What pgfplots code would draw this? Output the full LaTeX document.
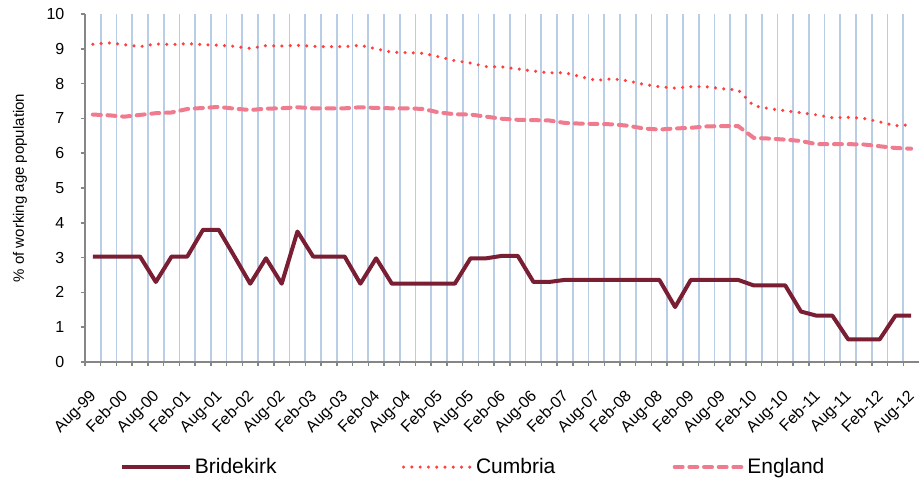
\documentclass[border=0pt]{standalone}
\usepackage{fontspec}
\setmainfont{Liberation Sans}
\usepackage{pgfplots}
\usepackage{pgfplotstable}
\pgfplotsset{compat=1.18}
\definecolor{brid}{RGB}{122,30,52}
\definecolor{cumb}{RGB}{255,64,64}
\definecolor{eng}{RGB}{240,122,142}
\definecolor{gridb}{RGB}{185,205,229}
\definecolor{axgray}{RGB}{134,134,134}
\pgfplotstableread{
i B C E
0 3.03 9.13 7.11
1 3.03 9.17 7.09
2 3.03 9.12 7.05
3 3.03 9.06 7.10
4 2.30 9.14 7.15
5 3.03 9.12 7.17
6 3.03 9.15 7.27
7 3.80 9.12 7.30
8 3.80 9.10 7.33
9 3.03 9.07 7.28
10 2.25 9.01 7.24
11 2.98 9.09 7.28
12 2.25 9.08 7.29
13 3.75 9.10 7.32
14 3.03 9.07 7.29
15 3.03 9.06 7.29
16 3.03 9.06 7.29
17 2.25 9.10 7.32
18 2.98 9.00 7.30
19 2.25 8.90 7.29
20 2.25 8.89 7.29
21 2.25 8.87 7.27
22 2.25 8.77 7.17
23 2.25 8.66 7.12
24 2.98 8.59 7.11
25 2.98 8.49 7.05
26 3.05 8.48 6.99
27 3.05 8.42 6.96
28 2.30 8.36 6.95
29 2.30 8.31 6.94
30 2.36 8.31 6.87
31 2.36 8.20 6.85
32 2.36 8.09 6.84
33 2.36 8.14 6.83
34 2.36 8.08 6.79
35 2.36 7.98 6.71
36 2.36 7.91 6.68
37 1.58 7.87 6.71
38 2.36 7.91 6.73
39 2.36 7.91 6.77
40 2.36 7.85 6.78
41 2.36 7.82 6.78
42 2.20 7.36 6.44
43 2.20 7.28 6.42
44 2.20 7.22 6.39
45 1.45 7.16 6.35
46 1.33 7.10 6.26
47 1.33 7.02 6.26
48 0.65 7.03 6.26
49 0.65 7.00 6.25
50 0.65 6.90 6.20
51 1.33 6.79 6.15
52 1.33 6.82 6.13
}\datatable
\begin{document}
\begin{tikzpicture}[font=\fontsize{12}{14}\selectfont]
\begin{axis}[
  at={(0,0)}, anchor=south west, scale only axis,
  width=625.5pt, height=261pt,
  xmin=-0.5, xmax=52.5, ymin=0, ymax=10,
  axis x line*=bottom, axis y line*=left,
  axis line style={draw=axgray, line width=1.1pt},
  tick align=outside,
  xtick={0,2,...,52},
  xticklabels={Aug-99,Feb-00,Aug-00,Feb-01,Aug-01,Feb-02,Aug-02,Feb-03,Aug-03,Feb-04,Aug-04,Feb-05,Aug-05,Feb-06,Aug-06,Feb-07,Aug-07,Feb-08,Aug-08,Feb-09,Aug-09,Feb-10,Aug-10,Feb-11,Aug-11,Feb-12,Aug-12},
  every major x tick/.style={draw=none},
  minor xtick={-0.5,0.5,...,51.5},
  xminorgrids,
  minor x grid style={draw=gridb, line width=1.3pt},
  every minor x tick/.style={draw=axgray, line width=1.1pt},
  minor tick length=3pt,
  ytick={0,1,...,10},
  every major y tick/.style={draw=axgray, line width=1.1pt},
  major tick length=3pt,
  /pgf/number format/assume math mode=true,
  tick label style={font=\fontsize{12}{14}\selectfont},
  x tick label style={inner sep=0pt, xshift=-3pt, yshift=-17pt, rotate=45, anchor=north east},
  y tick label style={inner sep=0pt, anchor=east, xshift=-12.25pt},
  ylabel={\% of working age population},
  every axis y label/.style={at={([xshift=-48.75pt]axis description cs:0,0.5)}, rotate=90, anchor=center, font=\fontsize{11.25}{12}\selectfont},
  legend columns=3,
  legend style={draw=none, fill=none, at={(0.466,-0.302)}, anchor=center,
    font=\fontsize{15.75}{16}\selectfont,
    /tikz/column 2/.style={column sep=92pt},
    /tikz/column 4/.style={column sep=86pt}},
  legend cell align=left,
  legend image code/.code={\draw[#1] (0pt,0pt) -- (51pt,0pt);},
]
\addplot[brid, line width=3pt, line join=round] table[x=i, y=B] {\datatable};
\addlegendentry{Bridekirk}
\addplot[cumb, line width=2.6pt, line cap=round, dash pattern=on 0pt off 6.2pt] table[x=i, y=C] {\datatable};
\addlegendentry{Cumbria}
\addplot[eng, line width=3pt, line cap=round, dash pattern=on 6pt off 5pt] table[x=i, y=E] {\datatable};
\addlegendentry{England}
\end{axis}
\pgfresetboundingbox
\path (-63.75pt,-93pt) rectangle (625.5pt,271.5pt);
\end{tikzpicture}
\end{document}
